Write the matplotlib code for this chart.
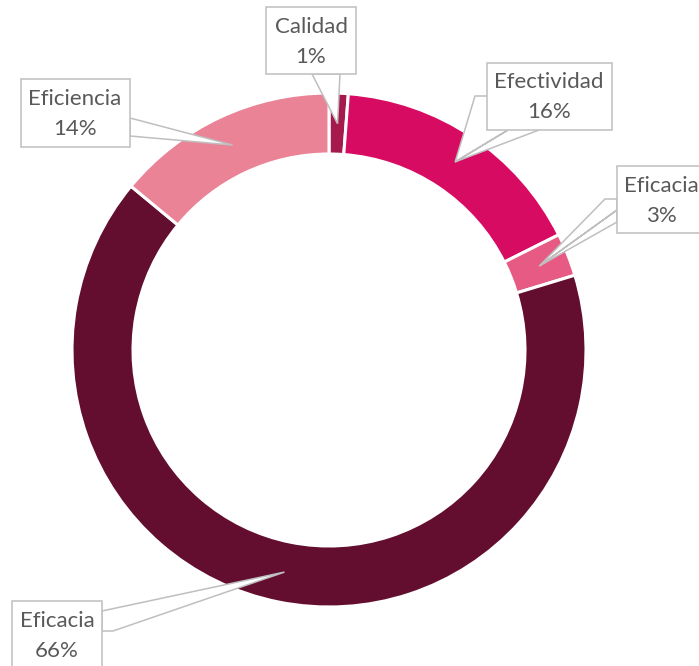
import numpy as np
import matplotlib.pyplot as plt
from matplotlib.patches import Rectangle, Polygon

# slice data, clockwise from 12 o'clock
labels = ['Calidad', 'Efectividad', 'Eficacia', 'Eficacia', 'Eficiencia']
values = [1.2, 16.4, 2.7, 65.7, 14.0]
colors = ['#A6194D', '#D80B63', '#E65A84', '#630E2E', '#EB8397']

# layout in pixel units (y grows downwards)
W, H = 699, 666
cx, cy = 329, 350
r_out, r_in = 257, 196

# callout boxes (x0, y0, x1, y1) and where the text sits
boxes = [(266, 7, 356, 74), (487, 63, 612, 130), (617, 166, 725, 233),
         (12, 601, 102, 690), (21, 79, 130, 147)]
text_pos = [(311, 42), (549, 97), (661, 201), (57, 636), (75, 114)]
# pointer outline points; None marks where the tip goes
pointers = [
    [(312, 74), None, (340, 74)],
    [(487, 96), (475, 96), None, (508, 130), None, (539, 130)],
    [(617, 199), (605, 199), None, (617, 210), None, (617, 222)],
    [(102, 611), None, (113, 631), (102, 631)],
    [(130, 118), None, (130, 136)],
]

fig = plt.figure(figsize=(W / 100, H / 100), dpi=100)
ax = fig.add_axes([0, 0, 1, 1])

# y axis is flipped, so counterclockwise in data = clockwise on screen
wedges, _ = ax.pie(values, colors=colors, startangle=-90, counterclock=True,
                   radius=r_out, center=(cx, cy),
                   wedgeprops=dict(width=r_out - r_in, edgecolor='white', linewidth=2.2))

r_mid = (r_out + r_in) / 2
for i, w in enumerate(wedges):
    a = np.deg2rad((w.theta1 + w.theta2) / 2)
    tip = (cx + r_mid * np.cos(a), cy + r_mid * np.sin(a))
    pts = [tip if p is None else p for p in pointers[i]]
    ax.add_patch(Polygon(pts, closed=True, facecolor='white', edgecolor='#BFBFBF',
                         linewidth=1.1, zorder=3))
    x0, y0, x1, y1 = boxes[i]
    ax.add_patch(Rectangle((x0, y0), x1 - x0, y1 - y0, facecolor='white',
                           edgecolor='#BFBFBF', linewidth=1.1, zorder=4))
    ax.text(text_pos[i][0], text_pos[i][1], '%s\n%.0f%%' % (labels[i], values[i]),
            ha='center', va='center', fontsize=16, color='#595959',
            family='Lato', linespacing=1.6, zorder=5)

ax.set_xlim(0, W)
ax.set_ylim(H, 0)
ax.set_aspect('equal')
ax.axis('off')

plt.savefig('out.png', dpi=100)
